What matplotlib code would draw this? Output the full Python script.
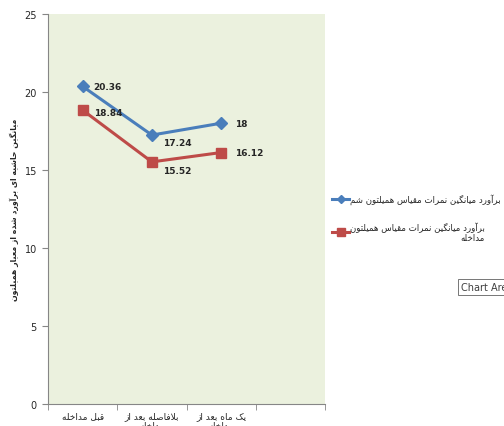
import matplotlib
matplotlib.use("Agg")
import matplotlib.pyplot as plt

# data
categories = ["قبل مداخله", "بلافاصله بعد از\nمداخله", "یک ماه بعد از\nمداخله", ""]
sham = [20.36, 17.24, 18]
treat = [18.84, 15.52, 16.12]
sham_name = "برآورد میانگین نمرات مقیاس همیلتون شم"
treat_name = "برآورد میانگین نمرات مقیاس همیلتون\nمداخله"
y_title = "میانگین حاشیه ای برآورد شده از معیار همیلتون"

# simple arabic/persian shaping (presentation forms) since matplotlib has no shaper
FORMS = {
    'ا': ('\uFE8D', '\uFE8E', None, None), 'آ': ('\uFE81', '\uFE82', None, None),
    'ب': ('\uFE8F', '\uFE90', '\uFE91', '\uFE92'), 'ت': ('\uFE95', '\uFE96', '\uFE97', '\uFE98'),
    'ح': ('\uFEA1', '\uFEA2', '\uFEA3', '\uFEA4'), 'خ': ('\uFEA5', '\uFEA6', '\uFEA7', '\uFEA8'),
    'د': ('\uFEA9', '\uFEAA', None, None), 'ر': ('\uFEAD', '\uFEAE', None, None),
    'ز': ('\uFEAF', '\uFEB0', None, None), 'س': ('\uFEB1', '\uFEB2', '\uFEB3', '\uFEB4'),
    'ش': ('\uFEB5', '\uFEB6', '\uFEB7', '\uFEB8'), 'ص': ('\uFEB9', '\uFEBA', '\uFEBB', '\uFEBC'),
    'ط': ('\uFEC1', '\uFEC2', '\uFEC3', '\uFEC4'), 'ع': ('\uFEC9', '\uFECA', '\uFECB', '\uFECC'),
    'ف': ('\uFED1', '\uFED2', '\uFED3', '\uFED4'), 'ق': ('\uFED5', '\uFED6', '\uFED7', '\uFED8'),
    'ل': ('\uFEDD', '\uFEDE', '\uFEDF', '\uFEE0'), 'م': ('\uFEE1', '\uFEE2', '\uFEE3', '\uFEE4'),
    'ن': ('\uFEE5', '\uFEE6', '\uFEE7', '\uFEE8'), 'ه': ('\uFEE9', '\uFEEA', '\uFEEB', '\uFEEC'),
    'و': ('\uFEED', '\uFEEE', None, None), 'ی': ('\uFEEF', '\uFEF0', '\uFEF3', '\uFEF4'),
    'ک': ('\uFB8E', '\uFB8F', '\uFB90', '\uFB91'), 'گ': ('\uFB92', '\uFB93', '\uFB94', '\uFB95'),
    'ﻻ': ('\uFEFB', '\uFEFC', None, None),
}


def shape_line(s):
    s = s.replace('لا', 'ﻻ')
    out = []
    for i, ch in enumerate(s):
        if ch not in FORMS:
            out.append(ch)
            continue
        prev = s[i - 1] if i > 0 else ''
        nxt = s[i + 1] if i + 1 < len(s) else ''
        jp = prev in FORMS and FORMS[prev][2] is not None
        jn = FORMS[ch][2] is not None and nxt in FORMS
        iso, fin, ini, med = FORMS[ch]
        if jp and jn:
            out.append(med)
        elif jp:
            out.append(fin)
        elif jn:
            out.append(ini)
        else:
            out.append(iso)
    return ''.join(out)[::-1]


def fa(s):
    return '\n'.join(shape_line(l) for l in s.split('\n'))


plt.rcParams['font.family'] = ['DejaVu Sans']

fig = plt.figure(figsize=(5.04, 4.27), dpi=100)
ax = fig.add_axes([48 / 504, 22 / 427, 277 / 504, 390 / 427])
ax.set_facecolor('#EBF1DE')

x = list(range(len(sham)))
ax.plot(x, sham, color='#4A7EBB', lw=2.2, marker='D', ms=6.5, label=fa(sham_name))
ax.plot(x, treat, color='#BE4B48', lw=2.2, marker='s', ms=7.5, label=fa(treat_name))

offs_s = [(8, 0), (8, -5), (10, 0)]
offs_t = [(8, -2), (8, -6), (10, 0)]
for xi, v, o in zip(x, sham, offs_s):
    ax.annotate(f"{v:g}", (xi, v), xytext=o, textcoords='offset points',
                ha='left', va='center', fontsize=6.5, fontweight='bold', color='#262626')
for xi, v, o in zip(x, treat, offs_t):
    ax.annotate(f"{v:g}", (xi, v), xytext=o, textcoords='offset points',
                ha='left', va='center', fontsize=6.5, fontweight='bold', color='#262626')

ax.set_xlim(-0.5, len(categories) - 0.5)
ax.set_ylim(0, 25)
ax.set_yticks(range(0, 26, 5))
ax.set_xticks(range(len(categories)))
ax.set_xticklabels([fa(c) for c in categories], fontsize=6.5, color='#262626', va='top')
ax.set_xticks([i - 0.5 for i in range(len(categories) + 1)], minor=True)
ax.tick_params(axis='x', which='major', length=0, pad=5)
ax.tick_params(axis='x', which='minor', length=4, color='#868686', direction='out')
ax.tick_params(axis='y', length=4, color='#868686', labelsize=7, labelcolor='#262626', pad=4)
for sp in ['top', 'right']:
    ax.spines[sp].set_visible(False)
for sp in ['left', 'bottom']:
    ax.spines[sp].set_color('#868686')
    ax.spines[sp].set_linewidth(0.8)

fig.text(14 / 504, 1 - 210 / 427, fa(y_title), rotation=90, ha='center', va='center',
         fontsize=5.6, fontweight='bold', color='#262626')

leg = ax.legend(loc='center left', bbox_to_anchor=(332 / 504, 1 - 219 / 427),
                bbox_transform=fig.transFigure, frameon=False, fontsize=6.2,
                handlelength=2.0, handletextpad=0.1, labelspacing=2.0, borderpad=0,
                borderaxespad=0, markerscale=0.7)
for t in leg.get_texts():
    t.set_multialignment('right')
    t.set_color('#262626')

fig.text(461 / 504, 1 - 288 / 427, "Chart Area", fontsize=7, color='#404040', va='center',
         ha='left', bbox=dict(boxstyle='square,pad=0.3', fc='white', ec='#767676', lw=0.7))

fig.savefig('out.png', dpi=100)
